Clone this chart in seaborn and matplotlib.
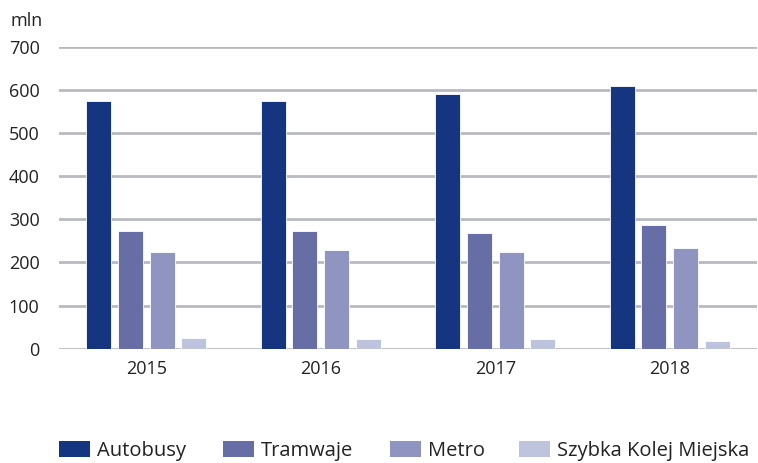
import matplotlib
matplotlib.use("Agg")
import matplotlib.pyplot as plt
import seaborn as sns
import pandas as pd
from matplotlib.patches import Patch

years = ["2015", "2016", "2017", "2018"]
series = ["Autobusy", "Tramwaje", "Metro", "Szybka Kolej Miejska"]
autobusy = [574, 573, 590, 608]
tramwaje = [272, 272, 268, 286]
metro = [223, 229, 224, 233]
skm = [24, 23, 23, 18]
yticks = [0, 100, 200, 300, 400, 500, 600, 700]
colors = ["#163581", "#676ea6", "#8f95c0", "#bec3de"]

rows = []
for name, vals in zip(series, [autobusy, tramwaje, metro, skm]):
    for y, v in zip(years, vals):
        rows.append({"rok": y, "seria": name, "wartosc": v})
df = pd.DataFrame(rows)

sns.set_theme(style="white")
plt.rcParams["font.family"] = ["Open Sans", "DejaVu Sans"]

fig = plt.figure(figsize=(7.58, 4.63), dpi=100)
ax = fig.add_axes([59 / 758, 1 - 348.7 / 463, 698 / 758, 302 / 463])

sns.barplot(data=df, x="rok", y="wartosc", hue="seria", order=years,
            hue_order=series, palette=colors, width=0.727, gap=0.21,
            saturation=1, ax=ax, legend=False, edgecolor="white", linewidth=0.6)

ax.set_ylim(0, 700)
ax.set_yticks(yticks)
ax.set_yticklabels([str(t) for t in yticks])
ax.yaxis.grid(True, color="#b9b9c1", linewidth=2)
ax.set_axisbelow(True)
for s in ax.spines.values():
    s.set_visible(False)
ax.set_xlabel("")
ax.set_ylabel("")
ax.tick_params(axis="both", length=0, labelsize=13, colors="#222222")
ax.tick_params(axis="y", pad=14)
ax.tick_params(axis="x", pad=8)
for lbl in ax.get_yticklabels():
    lbl.set_horizontalalignment("right")

fig.text(10 / 758, 1 - 21 / 463, "mln", fontsize=13, color="#222222", va="center")

legend_x = [59, 222.7, 390, 519]
for c, s, lx in zip(colors, series, legend_x):
    h = Patch(facecolor=c, edgecolor="none", label=s)
    leg = fig.legend(handles=[h], loc="center left",
                     bbox_to_anchor=(lx / 758, 1 - 451 / 463),
                     frameon=False, fontsize=14.5, handlelength=1.55,
                     handleheight=0.8, handletextpad=0.35, labelcolor="#222222",
                     borderpad=0, borderaxespad=0)

fig.savefig("out.png", dpi=100)
